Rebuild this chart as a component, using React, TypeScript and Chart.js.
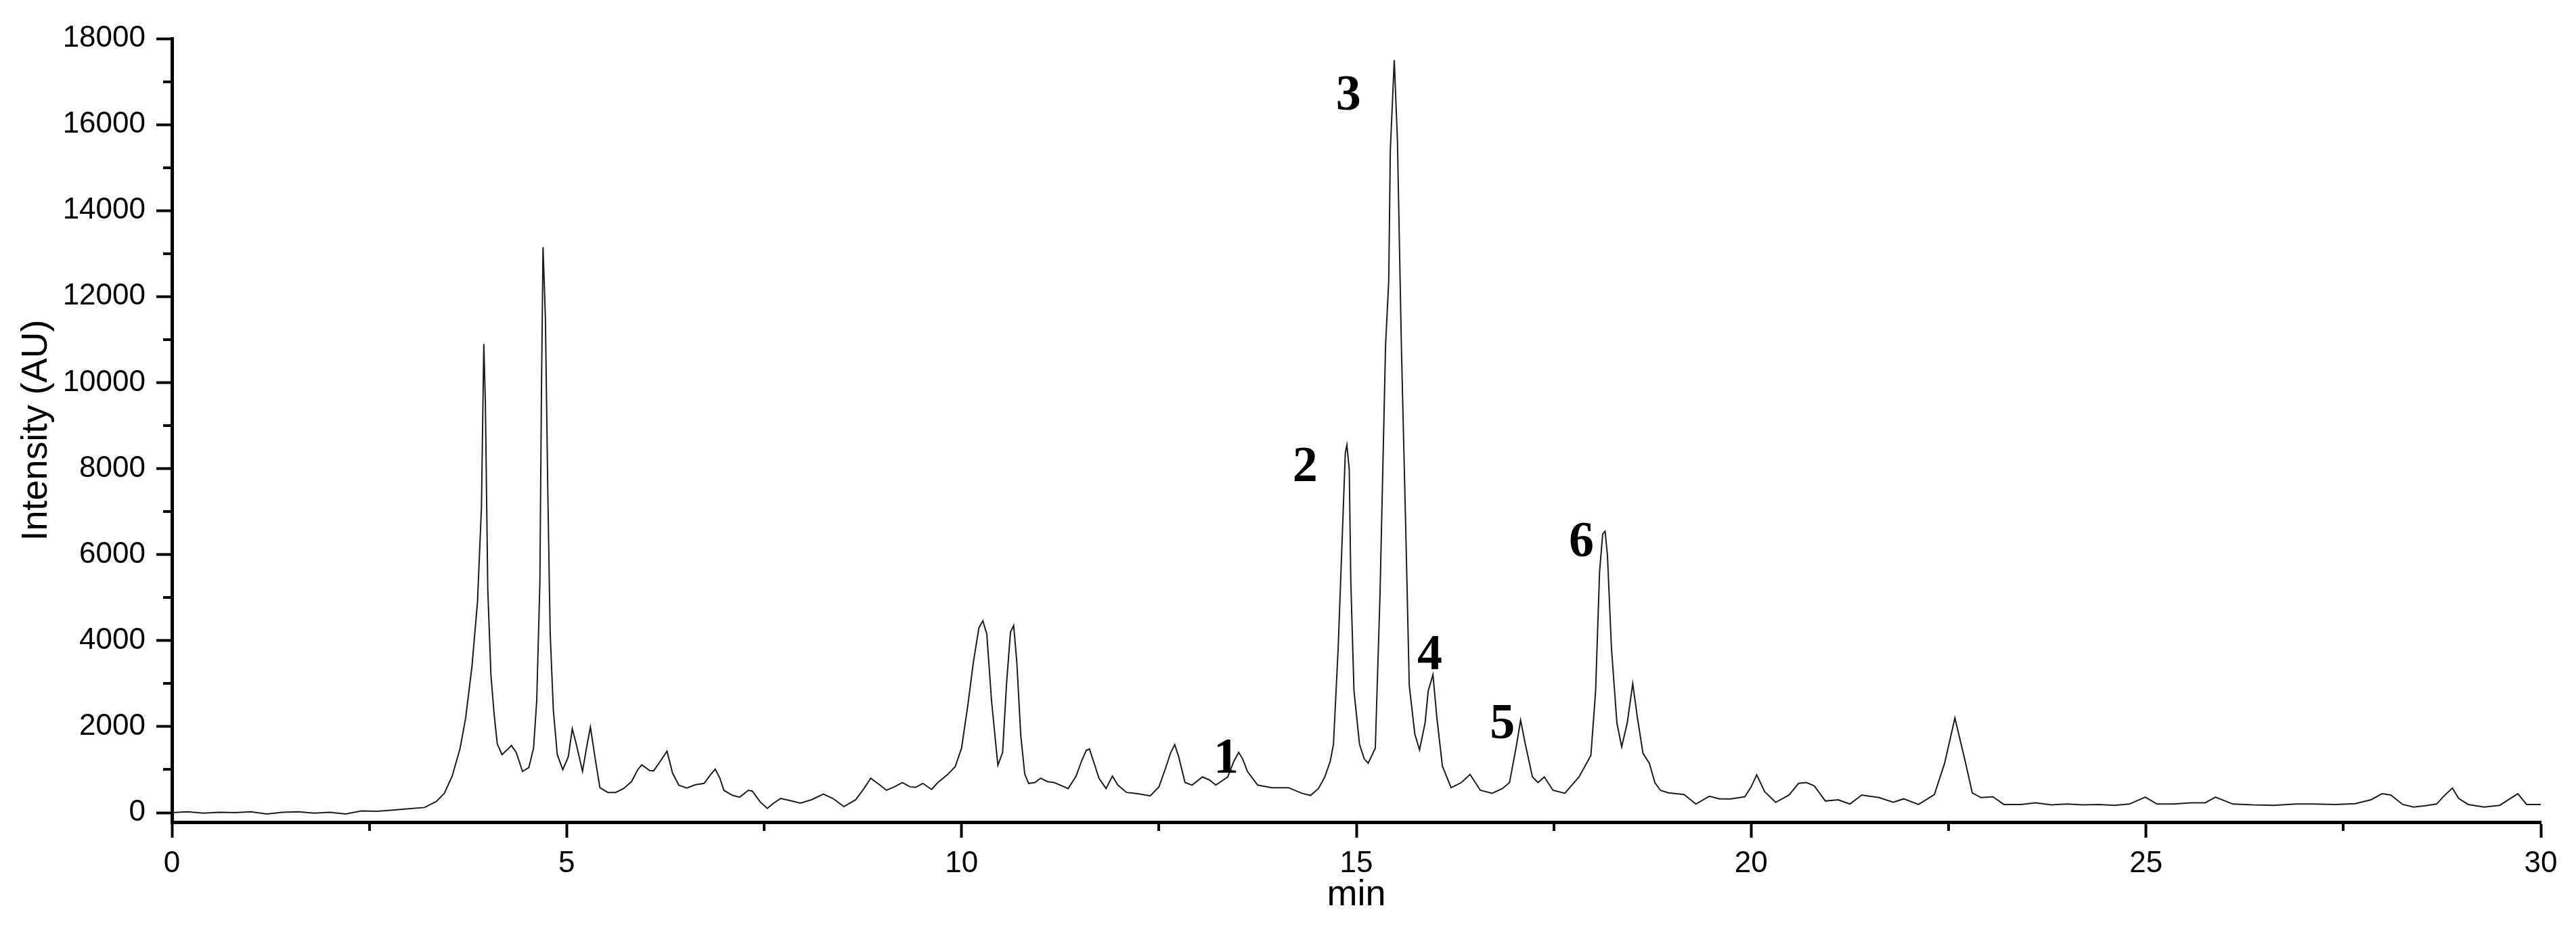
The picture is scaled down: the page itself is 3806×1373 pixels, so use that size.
import React, { useEffect, useRef } from 'react';
import { Chart, registerables } from 'chart.js';

Chart.register(...registerables);

// Retention time (min) of each sampled point of the chromatogram trace
const timeMin = [
  0.0, 0.2, 0.4, 0.6, 0.8, 1.0, 1.2, 1.4, 1.6, 1.8, 2.0, 2.2, 2.4, 2.6, 2.8, 3.0, 3.2, 3.35, 3.45, 3.55,
  3.65, 3.72, 3.8, 3.87, 3.92, 3.95, 3.97, 4.0, 4.04, 4.08, 4.12, 4.18, 4.24, 4.3, 4.36, 4.44, 4.52, 4.58, 4.62, 4.66,
  4.68, 4.7, 4.73, 4.76, 4.79, 4.83, 4.88, 4.95, 5.02, 5.07, 5.12, 5.2, 5.25, 5.3, 5.36, 5.42, 5.52, 5.62, 5.72, 5.82,
  5.9, 5.95, 6.05, 6.1, 6.18, 6.27, 6.34, 6.42, 6.52, 6.63, 6.74, 6.82, 6.88, 6.94, 6.99, 7.1, 7.19, 7.3, 7.35, 7.45,
  7.54, 7.62, 7.71, 7.83, 7.96, 8.1, 8.25, 8.37, 8.51, 8.66, 8.76, 8.85, 8.96, 9.05, 9.15, 9.25, 9.35, 9.42, 9.51, 9.62,
  9.7, 9.82, 9.92, 10.0, 10.08, 10.15, 10.22, 10.27, 10.32, 10.38, 10.46, 10.52, 10.57, 10.62, 10.66, 10.7, 10.75, 10.8, 10.85, 10.93,
  11.0, 11.09, 11.17, 11.25, 11.35, 11.45, 11.52, 11.58, 11.62, 11.67, 11.74, 11.83, 11.91, 11.98, 12.09, 12.23, 12.39, 12.5, 12.57, 12.65,
  12.7, 12.75, 12.83, 12.92, 13.05, 13.14, 13.22, 13.37, 13.45, 13.51, 13.56, 13.62, 13.75, 13.93, 14.14, 14.31, 14.42, 14.52, 14.6, 14.67,
  14.71, 14.77, 14.82, 14.86, 14.88, 14.91, 14.93, 14.97, 15.04, 15.1, 15.15, 15.24, 15.3, 15.37, 15.41, 15.43, 15.48, 15.52, 15.57, 15.63,
  15.67, 15.74, 15.8, 15.87, 15.91, 15.97, 16.02, 16.09, 16.2, 16.33, 16.44, 16.57, 16.72, 16.85, 16.94, 17.03, 17.08, 17.14, 17.23, 17.3,
  17.38, 17.49, 17.64, 17.82, 17.97, 18.03, 18.08, 18.12, 18.15, 18.18, 18.23, 18.3, 18.36, 18.43, 18.5, 18.56, 18.63, 18.71, 18.78, 18.85,
  18.95, 19.15, 19.3, 19.47, 19.6, 19.74, 19.92, 20.0, 20.07, 20.17, 20.31, 20.48, 20.6, 20.7, 20.8, 20.94, 21.1, 21.25, 21.4, 21.62,
  21.8, 21.93, 22.12, 22.32, 22.45, 22.58, 22.71, 22.8, 22.91, 23.06, 23.2, 23.42, 23.6, 23.8, 24.0, 24.2, 24.4, 24.6, 24.79, 24.99,
  25.14, 25.35, 25.57, 25.75, 25.88, 26.1, 26.35, 26.62, 26.9, 27.13, 27.4, 27.65, 27.85, 27.99, 28.1, 28.25, 28.39, 28.54, 28.68, 28.77,
  28.88, 28.96, 29.08, 29.28, 29.48, 29.59, 29.71, 29.82, 30.0,
];

// Intensity (AU) read at each of those times
const intensityAU = [
  0, 20, -10, 10, 0, 20, -30, 10, 20, -10, 10, -30, 40, 30, 60, 90, 120, 260, 450, 850,
  1500, 2200, 3400, 4900, 7100, 10900, 9500, 5200, 3200, 2300, 1600, 1350, 1450, 1560, 1400, 960, 1050, 1500, 2600, 5350,
  9800, 13150, 11500, 7500, 4200, 2400, 1350, 1000, 1300, 1950, 1600, 960, 1500, 1990, 1260, 580, 470, 470, 560, 720,
  1000, 1110, 980, 970, 1180, 1430, 920, 640, 570, 650, 680, 880, 1010, 800, 520, 400, 360, 520, 500, 250,
  100, 220, 330, 280, 220, 300, 430, 330, 140, 300, 550, 800, 650, 520, 600, 700, 600, 590, 680, 540,
  700, 880, 1070, 1500, 2500, 3500, 4300, 4460, 4150, 2600, 1100, 1400, 3000, 4200, 4350, 3500, 1800, 900, 680, 700,
  800, 720, 700, 640, 560, 850, 1200, 1450, 1480, 1200, 800, 560, 850, 640, 470, 440, 390, 600, 960, 1400,
  1580, 1300, 700, 640, 830, 760, 640, 830, 1200, 1400, 1250, 960, 640, 580, 580, 450, 400, 560, 830, 1200,
  1590, 3840, 6350, 8360, 8550, 7980, 5350, 2830, 1590, 1250, 1150, 1500, 5100, 10870, 12370, 15390, 17500, 15640, 10870, 6230,
  2960, 1830, 1460, 2080, 2830, 3210, 2200, 1080, 580, 700, 890, 520, 450, 560, 700, 1590, 2150, 1590, 830, 700,
  830, 520, 450, 830, 1330, 2830, 5600, 6480, 6540, 5980, 3840, 2080, 1530, 2080, 3000, 2200, 1380, 1150, 700, 520,
  460, 420, 200, 380, 320, 320, 370, 600, 880, 490, 240, 410, 680, 700, 620, 270, 300, 200, 410, 350,
  240, 320, 190, 420, 1150, 2200, 1200, 460, 350, 370, 190, 190, 230, 180, 200, 180, 190, 170, 200, 360,
  200, 200, 230, 230, 360, 200, 180, 170, 200, 200, 190, 210, 300, 440, 410, 190, 130, 160, 200, 380,
  570, 330, 190, 130, 170, 300, 440, 190, 190,
];

const xMajorTicks = [0, 5, 10, 15, 20, 25, 30];
const xMinorTicks = [2.5, 7.5, 12.5, 17.5, 22.5, 27.5];
const yMajorTicks = [0, 2000, 4000, 6000, 8000, 10000, 12000, 14000, 16000, 18000];
const yMinorTicks = [1000, 3000, 5000, 7000, 9000, 11000, 13000, 15000, 17000];

// Peak annotations (text, time, intensity where the number is centred)
const peakLabels = ['1', '2', '3', '4', '5', '6'];
const peakLabelTime = [13.35, 14.35, 14.9, 15.93, 16.85, 17.85];
const peakLabelIntensity = [1227, 8010, 16650, 3635, 2030, 6263];

const W = 3806;
const H = 1373;

const extrasPlugin = {
  id: 'chromExtras',
  afterDatasetsDraw(chart: any) {
    const ctx = chart.ctx;
    const xs = chart.scales.x;
    const ys = chart.scales.y;
    ctx.save();
    ctx.fillStyle = '#000';
    ctx.font = 'bold 74px "Liberation Serif", "Times New Roman", serif';
    ctx.textAlign = 'center';
    ctx.textBaseline = 'middle';
    peakLabels.forEach((t, i) => {
      ctx.fillText(t, xs.getPixelForValue(peakLabelTime[i]), ys.getPixelForValue(peakLabelIntensity[i]));
    });
    ctx.restore();
  },
  afterDraw(chart: any) {
    const ctx = chart.ctx;
    const xs = chart.scales.x;
    const ys = chart.scales.y;
    const ca = chart.chartArea;
    ctx.save();
    ctx.strokeStyle = '#000';
    ctx.lineWidth = 4;
    ctx.beginPath();
    yMinorTicks.forEach((v) => {
      const py = Math.round(ys.getPixelForValue(v));
      ctx.moveTo(ca.left, py);
      ctx.lineTo(ca.left - 13, py);
    });
    xMinorTicks.forEach((v) => {
      const px = Math.round(xs.getPixelForValue(v));
      ctx.moveTo(px, ca.bottom);
      ctx.lineTo(px, ca.bottom + 13);
    });
    ctx.stroke();
    ctx.restore();
  },
};

export default function App() {
  const canvasRef = useRef<HTMLCanvasElement | null>(null);

  useEffect(() => {
    const canvas = canvasRef.current;
    if (!canvas) return;
    const points = timeMin.map((t, i) => ({ x: t, y: intensityAU[i] }));
    const tickFont = { family: '"Liberation Sans", Arial, sans-serif', size: 44 };
    const chart = new Chart(canvas, {
      type: 'line',
      data: {
        datasets: [
          {
            data: points,
            borderColor: '#1c1c1c',
            borderWidth: 2,
            pointRadius: 0,
            tension: 0,
            fill: false,
          },
        ],
      },
      options: {
        animation: false,
        responsive: false,
        maintainAspectRatio: false,
        layout: { padding: { left: 0, right: 52, top: 57, bottom: 0 } },
        plugins: {
          legend: { display: false },
          tooltip: { enabled: false },
          title: { display: false },
        },
        scales: {
          x: {
            type: 'linear',
            min: 0,
            max: 30,
            afterBuildTicks: (scale: any) => {
              scale.ticks = xMajorTicks.map((v) => ({ value: v }));
            },
            afterFit: (scale: any) => {
              scale.height = 158;
            },
            ticks: {
              autoSkip: false,
              maxRotation: 0,
              padding: 12,
              color: '#000',
              font: tickFont,
              callback: (v: any) => String(v),
            },
            grid: {
              drawOnChartArea: false,
              drawTicks: true,
              tickLength: 23,
              tickWidth: 4,
              tickColor: '#000',
            },
            border: { display: true, width: 5, color: '#000' },
            title: {
              display: true,
              text: 'min',
              color: '#000',
              font: { family: '"Liberation Sans", Arial, sans-serif', size: 54 },
              padding: { top: 0, bottom: 17 },
            },
          },
          y: {
            type: 'linear',
            min: -220,
            max: 18000,
            afterBuildTicks: (scale: any) => {
              scale.ticks = yMajorTicks.map((v) => ({ value: v }));
            },
            afterFit: (scale: any) => {
              scale.width = 254;
            },
            ticks: {
              autoSkip: false,
              padding: 16,
              color: '#000',
              font: tickFont,
              callback: (v: any) => String(v),
            },
            grid: {
              drawOnChartArea: false,
              drawTicks: true,
              tickLength: 23,
              tickWidth: 4,
              tickColor: '#000',
            },
            border: { display: true, width: 5, color: '#000' },
            title: {
              display: true,
              text: 'Intensity (AU)',
              color: '#000',
              font: { family: '"Liberation Sans", Arial, sans-serif', size: 54 },
              padding: { top: 22, bottom: 0 },
            },
          },
        },
      },
      plugins: [extrasPlugin],
    });
    return () => chart.destroy();
  }, []);

  return (
    <div style={{ position: 'fixed', left: 0, top: 0, width: W, height: H, background: '#fff' }}>
      <canvas ref={canvasRef} width={W} height={H} style={{ display: 'block', width: W, height: H }} />
    </div>
  );
}
